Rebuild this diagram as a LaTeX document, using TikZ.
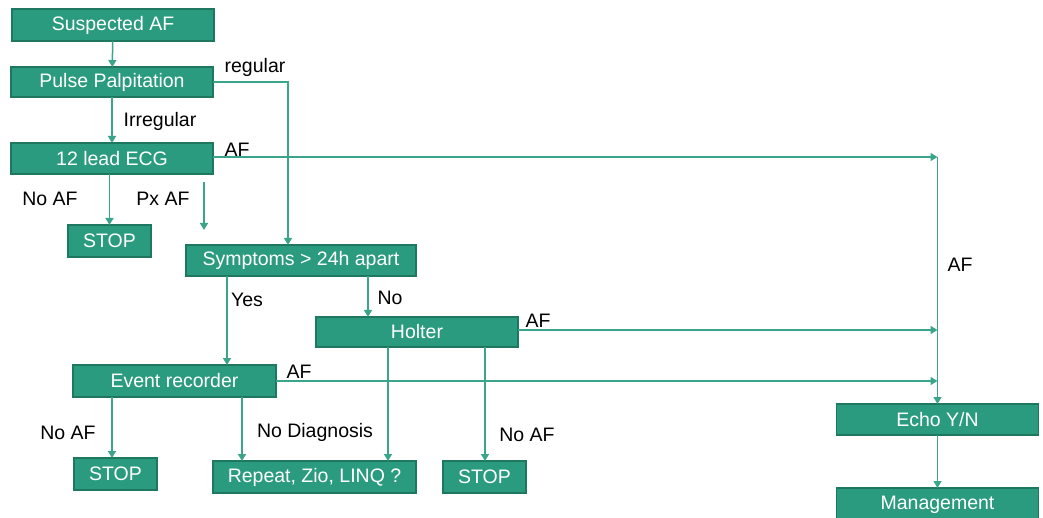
\documentclass[tikz,border=0pt]{standalone}
\usepackage{fontspec}
\setmainfont{Liberation Sans}
\usetikzlibrary{arrows.meta}
\definecolor{boxfill}{HTML}{2B9B80}
\definecolor{boxedge}{HTML}{1E775F}
\definecolor{flow}{HTML}{3AA58A}
\begin{document}
\begin{tikzpicture}[x=1pt,y=-1pt,
  box/.style={draw=boxedge,fill=boxfill,line width=1.8pt,text=white,
    inner sep=0pt,outer sep=0pt,font=\fontsize{19.5}{22}\selectfont},
  lbl/.style={text=black,inner sep=0pt,font=\fontsize{19.5}{22}\selectfont},
  arr/.style={draw=flow,line width=1.5pt,-{Triangle[width=8pt,length=7pt]}}]
\useasboundingbox (0,0) rectangle (1043,518);

% boxes
\node[box,minimum width=202pt,minimum height=32pt] (sus) at (113,25) {Suspected AF};
\node[box,minimum width=202pt,minimum height=30pt] (pulse) at (112,82) {Pulse Palpitation};
\node[box,minimum width=202pt,minimum height=31pt] (ecg) at (112,158.5) {12 lead ECG};
\node[box,minimum width=83pt,minimum height=32pt] (stopa) at (109.5,241) {STOP};
\node[box,minimum width=230pt,minimum height=31pt] (sym) at (301,260.5) {Symptoms > 24h apart};
\node[box,minimum width=202pt,minimum height=30pt] (holter) at (417,332) {Holter};
\node[box,minimum width=203pt,minimum height=32pt] (event) at (174.5,381) {Event recorder};
\node[box,minimum width=83pt,minimum height=32pt] (stopb) at (115.5,474) {STOP};
\node[box,minimum width=203pt,minimum height=32pt] (rep) at (314.5,477) {Repeat, Zio, LINQ ?};
\node[box,minimum width=83pt,minimum height=32pt] (stopc) at (484.5,477) {STOP};
\node[box,minimum width=202pt,minimum height=31pt] (echo) at (937.5,419.5) {Echo Y/N};
\node[box,minimum width=202pt,minimum height=34pt] (mgmt) at (937.5,505) {Management};

% junction points on the AF collector line
\coordinate (ja) at (937.5,157);
\coordinate (jb) at (937.5,330);
\coordinate (jc) at (937.5,381);
% free arrow for paroxysmal AF
\coordinate (pxa) at (204,182);
\coordinate (pxb) at (204,230);
% horizontal positions of branching connectors
\coordinate (xreg) at (288,0);
\coordinate (xyes) at (227,0);
\coordinate (xno) at (368,0);
\coordinate (xstb) at (112,0);
\coordinate (xdiag) at (242,0);
\coordinate (xhr) at (388,0);
\coordinate (xhs) at (485,0);

% connectors
\draw[arr] (sus) -- (pulse);
\draw[arr] (pulse) -- (ecg);
\draw[arr] (ecg.south -| stopa.north) -- (stopa.north);
\draw[arr] (pxa) -- (pxb);
\draw[arr] (pulse.east) -| (sym.north -| xreg);
\draw[arr] (ecg.east |- ja) -- (ja);
\draw[arr] (ja) -- (echo.north);
\draw[arr] (holter.east |- jb) -- (jb);
\draw[arr] (event.east |- jc) -- (jc);
\draw[arr] (sym.south -| xyes) -- (event.north -| xyes);
\draw[arr] (sym.south -| xno) -- (holter.north -| xno);
\draw[arr] (event.south -| xstb) -- (stopb.north -| xstb);
\draw[arr] (event.south -| xdiag) -- (rep.north -| xdiag);
\draw[arr] (holter.south -| xhr) -- (rep.north -| xhr);
\draw[arr] (holter.south -| xhs) -- (stopc.north -| xhs);
\draw[arr] (echo) -- (mgmt);

% labels
\node[lbl] (lreg) at (255,67) {regular};
\node[lbl] (lirr) at (160,121) {Irregular};
\node[lbl] (laf1) at (237,150) {AF};
\node[lbl] (lnoaf1) at (50,199) {No AF};
\node[lbl] (lpx) at (163,199) {Px AF};
\node[lbl] (lyes) at (247,300) {Yes};
\node[lbl] (lno) at (390,298) {No};
\node[lbl] (laf2) at (538,321) {AF};
\node[lbl] (laf3) at (299,372) {AF};
\node[lbl] (laf4) at (960,265) {AF};
\node[lbl] (lnoaf2) at (68,433) {No AF};
\node[lbl] (ldiag) at (315,432) {No Diagnosis};
\node[lbl] (lnoaf3) at (527,435) {No AF};
\end{tikzpicture}
\end{document}
